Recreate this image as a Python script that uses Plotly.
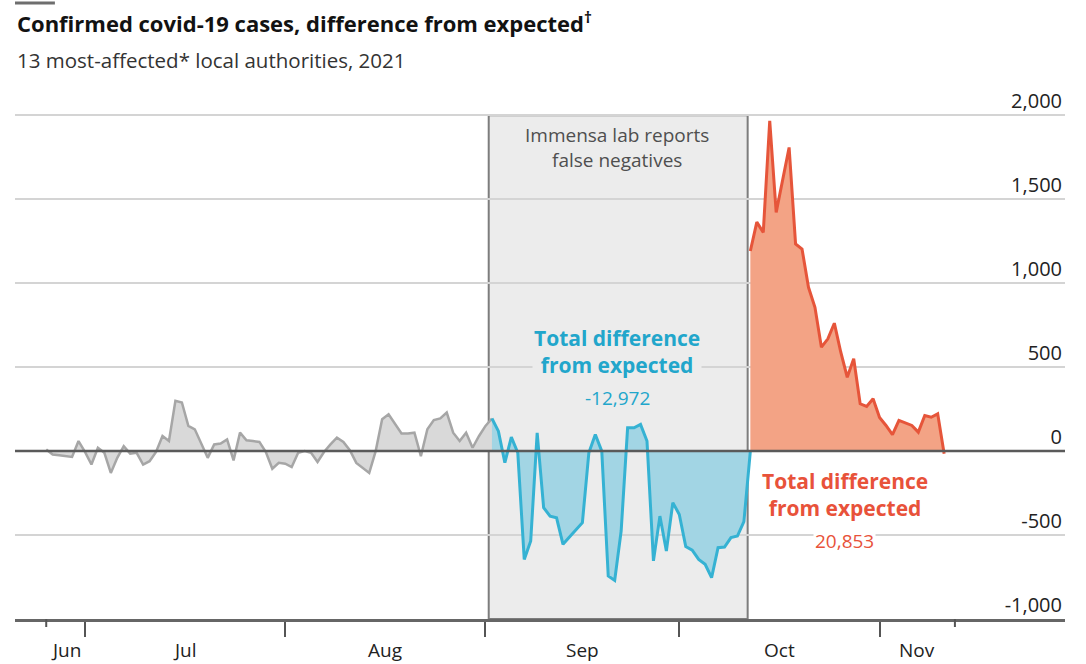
import pandas as pd
import plotly.graph_objects as go

# ---------------- data ----------------
start_date = "2021-06-25"

gray_values = [10, -20, -25, -30, -35, 60, -5, -80, 20, -10,
               -130, -40, 30, -15, -10, -80, -60, -5, 90, 60,
               300, 290, 150, 130, 40, -40, 40, 45, 70, -55,
               110, 65, 60, 55, -5, -105, -70, -75, -95, -10,
               0, -10, -65, -5, 40, 80, 55, 5, -70, -100,
               -130, 0, 190, 220, 160, 105, 105, 110, -30, 130,
               185, 195, 230, 110, 60, 110, 20, 90, 150, 194]

blue_values = [194, 119, -69, 83, -10, -645, -535, 109, -337, -387,
               -397, -555, -512, -469, -426, -10, 99, 0, -744, -770,
               -476, 139, 139, 159, 60, -654, -387, -595, -307, -377,
               -569, -590, -645, -674, -754, -575, -571, -515, -506, -420,
               0]

red_values = [1192, 1364, 1303, 1968, 1422, 1620, 1809, 1234, 1204, 976,
              857, 619, 669, 762, 589, 440, 550, 282, 266, 312,
              200, 153, 98, 183, 170, 153, 113, 212, 202, 222,
              -16]

y_tick_values = [-1000, -500, 0, 500, 1000, 1500, 2000]
y_tick_labels = ["-1,000", "-500", "0", "500", "1,000", "1,500", "2,000"]
month_starts = ["2021-07-01", "2021-08-01", "2021-09-01", "2021-10-01", "2021-11-01"]
month_labels = ["Jun", "Jul", "Aug", "Sep", "Oct", "Nov"]
end_ticks = ["2021-06-25", "2021-11-12 16:00"]
immensa_period = ["2021-09-01 12:00", "2021-10-11 14:00"]
blue_total = "-12,972"
red_total = "20,853"

# ---------------- build dates ----------------
n = len(gray_values) + len(blue_values) + len(red_values) - 2
dates = pd.date_range(start_date, periods=n, freq="D")
g_n, b_n = len(gray_values), len(blue_values)
gray_dates = dates[:g_n]
blue_dates = dates[g_n - 1: g_n - 1 + b_n]
red_dates = dates[g_n + b_n - 2:]

GRAY_LINE, GRAY_FILL = "#a6a6a6", "#d9d9d9"
BLUE_LINE, BLUE_FILL = "#35b2d3", "#a2d5e4"
RED_LINE, RED_FILL = "#e6553a", "#f3a385"
BLUE_TEXT, RED_TEXT = "#22a6cb", "#e8523a"
FONT = "'Open Sans', sans-serif"

fig = go.Figure()
fig.add_trace(go.Scatter(x=gray_dates, y=gray_values, mode="lines",
                         line=dict(color=GRAY_LINE, width=2.5),
                         fill="tozeroy", fillcolor=GRAY_FILL, hoverinfo="skip"))
fig.add_trace(go.Scatter(x=blue_dates, y=blue_values, mode="lines",
                         line=dict(color=BLUE_LINE, width=3),
                         fill="tozeroy", fillcolor=BLUE_FILL, hoverinfo="skip"))
fig.add_trace(go.Scatter(x=red_dates, y=red_values, mode="lines",
                         line=dict(color=RED_LINE, width=3),
                         fill="tozeroy", fillcolor=RED_FILL, hoverinfo="skip"))

# x range: a few days of padding left, room for y labels right
x_left = dates[0] - pd.Timedelta(hours=116)
x_right = dates[0] + pd.Timedelta(hours=3785)
Y_TOP = 2300  # headroom so the top tick label shows

M_TOP, M_BOT = 65, 45
PLOT_H = 664 - M_TOP - M_BOT


def py(pix):
    """paper y for a pixel row of the page"""
    return (664 - M_BOT - pix) / PLOT_H


shapes = [
    dict(type="rect", xref="x", yref="y", x0=immensa_period[0], x1=immensa_period[1],
         y0=y_tick_values[0], y1=y_tick_values[-1], fillcolor="#ececec",
         line=dict(color="#7d7d7d", width=2), layer="below"),
    dict(type="line", xref="paper", yref="y", x0=0, x1=1, y0=0, y1=0,
         line=dict(color="#5a5a5a", width=2.5), layer="above"),
    dict(type="line", xref="paper", yref="paper", x0=0, x1=0.038, y0=py(3), y1=py(3),
         line=dict(color="#6e6e6e", width=3)),
]
for d in end_ticks:
    shapes.append(dict(type="line", xref="x", yref="paper", x0=d, x1=d, y0=0, y1=-8 / PLOT_H,
                       line=dict(color="#555555", width=2)))

# month label positions: centre of each month's span within the dated range
bounds = [pd.Timestamp(end_ticks[0])] + [pd.Timestamp(m) for m in month_starts] + \
         [pd.Timestamp(end_ticks[1])]
annotations = []
for lab, a, b in zip(month_labels, bounds[:-1], bounds[1:]):
    mid = a + (b - a) / 2
    annotations.append(dict(x=mid, xref="x", y=py(650), yref="paper", text=lab,
                            showarrow=False, font=dict(size=19, color="#222222"),
                            xanchor="center", yanchor="middle"))

annotations += [
    dict(x=0, xref="paper", y=py(22), yref="paper", xanchor="left", yanchor="middle",
         text="<b>Confirmed covid-19 cases, difference from expected<sup>†</sup></b>",
         showarrow=False, font=dict(size=22, color="#121212")),
    dict(x=0, xref="paper", y=py(60), yref="paper", xanchor="left", yanchor="middle",
         text="13 most-affected* local authorities, 2021",
         showarrow=False, font=dict(size=20.5, color="#333333")),
    dict(x="2021-09-21 10:00", xref="x", y=py(147), yref="paper", xanchor="center",
         yanchor="middle", text="Immensa lab reports<br>false negatives", showarrow=False,
         font=dict(size=19, color="#4f4f4f")),
    dict(x="2021-09-21 10:00", xref="x", y=592, yref="y", xanchor="center", yanchor="middle",
         text="<b>Total difference<br>from expected</b>", showarrow=False,
         bgcolor="#ececec", font=dict(size=21, color=BLUE_TEXT)),
    dict(x="2021-09-21 10:00", xref="x", y=315, yref="y", xanchor="center", yanchor="middle",
         text=blue_total, showarrow=False, font=dict(size=19, color=BLUE_TEXT)),
    dict(x="2021-10-26 14:00", xref="x", y=-256, yref="y", xanchor="center", yanchor="middle",
         text="<b>Total difference<br>from expected</b>", showarrow=False,
         font=dict(size=21, color=RED_TEXT)),
    dict(x="2021-10-26 14:00", xref="x", y=-535, yref="y", xanchor="center", yanchor="middle",
         text=red_total, showarrow=False, bgcolor="#ffffff",
         font=dict(size=19, color=RED_TEXT)),
]

fig.update_layout(
    width=1086, height=664,
    margin=dict(l=15, r=21, t=M_TOP, b=M_BOT),
    paper_bgcolor="white", plot_bgcolor="white",
    showlegend=False,
    font=dict(family=FONT),
    shapes=shapes, annotations=annotations,
    xaxis=dict(range=[x_left, x_right], type="date",
               tickvals=month_starts, showticklabels=False,
               ticks="outside", ticklen=15, tickwidth=2, tickcolor="#555555",
               showgrid=False, zeroline=False,
               showline=True, linecolor="#666666", linewidth=2.5),
    yaxis=dict(range=[y_tick_values[0], Y_TOP], side="right",
               tickvals=y_tick_values, ticktext=y_tick_labels,
               ticklabelposition="inside top", ticks="",
               tickfont=dict(size=20, color="#222222"),
               showgrid=True, gridcolor="#d4d4d4", gridwidth=2,
               zeroline=False, showline=False),
)

fig.write_html("out.html", config={"displayModeBar": False},
               post_script="document.body.style.margin='0px';")
